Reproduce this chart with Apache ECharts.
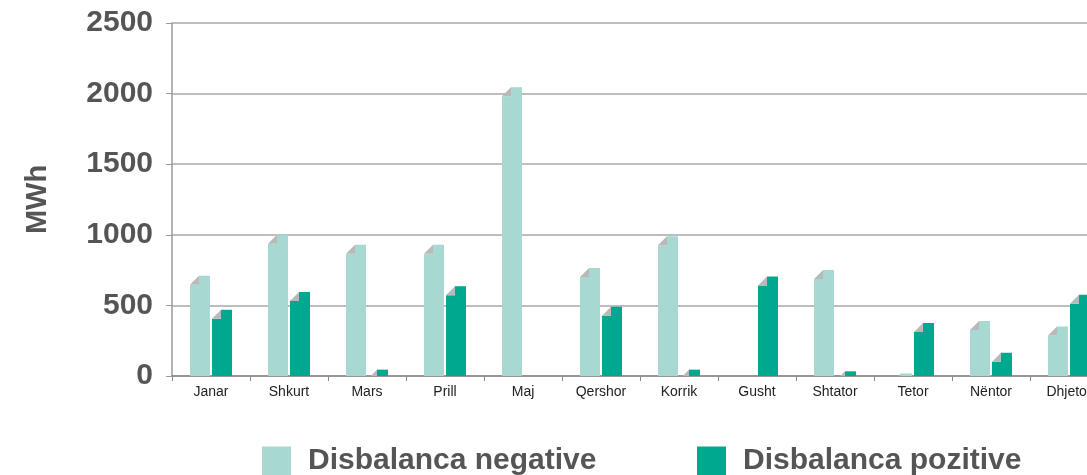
<!DOCTYPE html>
<html>
<head>
<meta charset="utf-8">
<script src="https://cdn.jsdelivr.net/npm/echarts@6/dist/echarts.min.js"></script>
<style>
  html, body { margin: 0; padding: 0; background: #ffffff; overflow: hidden; }
  /* plot runs past the right edge of the page, so the canvas is wider than the view */
  #chart { width: 1110px; height: 475px; }
</style>
</head>
<body>
<div id="chart"></div>
<script>
// Monthly imbalance energy (MWh)
const months = ['Janar', 'Shkurt', 'Mars', 'Prill', 'Maj', 'Qershor', 'Korrik', 'Gusht', 'Shtator', 'Tetor', 'Nëntor', 'Dhjetor'];
const negative = [710, 1000, 930, 930, 2045, 765, 990, 0, 750, 18, 390, 350];
const positive = [470, 595, 45, 635, 0, 490, 45, 705, 33, 375, 165, 575];
const seriesNames = ['Disbalanca negative', 'Disbalanca pozitive'];
const axisTitle = 'MWh';

const LIGHT = '#a7d8d1';
const DARK = '#00a88f';
const FOLD = '#b9b9b9';
const FONT = '"Liberation Sans", Arial, sans-serif';

// Column with a folded top-left corner
function foldedColumn(offset, color) {
  return function (params, api) {
    const v = api.value(1);
    if (v == null || v <= 0) return;
    const top = api.coord([api.value(0), v]);
    const base = api.coord([api.value(0), 0]);
    const bw = 20;
    const x0 = top[0] + offset - bw / 2;
    const x1 = x0 + bw;
    const yT = top[1];
    const yB = base[1];
    const h = yB - yT;
    const dh = 9, dv = 9;
    const children = [];
    if (h >= dv) {
      children.push({
        type: 'polygon',
        shape: { points: [[x0, yB], [x0, yT + dv], [x0 + dh, yT + dv], [x0 + dh, yT], [x1, yT], [x1, yB]] },
        style: { fill: color }
      });
      children.push({
        type: 'polygon',
        shape: { points: [[x0, yT + dv], [x0 + dh, yT], [x0 + dh, yT + dv]] },
        style: { fill: FOLD }
      });
    } else if (h > 1) {
      const xb = x0 + dh * (dv - h) / dv;
      children.push({
        type: 'polygon',
        shape: { points: [[x0 + dh, yT], [x1, yT], [x1, yB], [x0 + dh, yB]] },
        style: { fill: color }
      });
      children.push({
        type: 'polygon',
        shape: { points: [[xb, yB], [x0 + dh, yT], [x0 + dh, yB]] },
        style: { fill: FOLD }
      });
    } else {
      children.push({
        type: 'polygon',
        shape: { points: [[x0, yT], [x1, yT], [x1, yB], [x0, yB]] },
        style: { fill: color }
      });
    }
    return { type: 'group', children: children };
  };
}

const chart = echarts.init(document.getElementById('chart'), null, { renderer: 'canvas' });

const legendText = { fontFamily: FONT, fontWeight: 'bold', fontSize: 30, color: '#555555', padding: [0, 0, 0, 12] };

chart.setOption({
  animation: false,
  backgroundColor: '#ffffff',
  grid: { left: 172, top: 23, width: 936, height: 353 },
  legend: [
    {
      data: [seriesNames[0]],
      left: 257, top: 441,
      icon: 'rect', itemWidth: 29, itemHeight: 29,
      textStyle: legendText
    },
    {
      data: [seriesNames[1]],
      left: 692, top: 441,
      icon: 'rect', itemWidth: 29, itemHeight: 29,
      textStyle: legendText
    }
  ],
  xAxis: {
    type: 'category',
    data: months,
    boundaryGap: true,
    axisLine: { lineStyle: { color: '#8a8a8a', width: 1.5 } },
    axisTick: { show: true, length: 5, lineStyle: { color: '#8a8a8a' } },
    axisLabel: { fontFamily: FONT, fontSize: 14, color: '#222222', margin: 9, interval: 0 }
  },
  yAxis: {
    type: 'value',
    min: 0, max: 2500, interval: 500,
    name: axisTitle,
    nameLocation: 'middle',
    nameRotate: 90,
    nameGap: 120,
    nameTextStyle: { fontFamily: FONT, fontWeight: 'bold', fontSize: 29, color: '#555555' },
    axisLine: { show: true, lineStyle: { color: '#9a9a9a', width: 1.5 } },
    axisTick: { show: true, length: 6, lineStyle: { color: '#9a9a9a' } },
    axisLabel: {
      fontFamily: FONT, fontWeight: 'bold', fontSize: 30, color: '#555555', margin: 19,
      formatter: function (v) { return String(v); }
    },
    splitLine: { show: true, lineStyle: { color: '#a8a8a8', width: 1.5 } }
  },
  series: [
    {
      name: seriesNames[0],
      type: 'custom',
      itemStyle: { color: LIGHT },
      renderItem: foldedColumn(-11, LIGHT),
      encode: { x: 0, y: 1 },
      data: months.map((m, i) => [i, negative[i]])
    },
    {
      name: seriesNames[1],
      type: 'custom',
      itemStyle: { color: DARK },
      renderItem: foldedColumn(11, DARK),
      encode: { x: 0, y: 1 },
      data: months.map((m, i) => [i, positive[i]])
    }
  ]
});
</script>
</body>
</html>
